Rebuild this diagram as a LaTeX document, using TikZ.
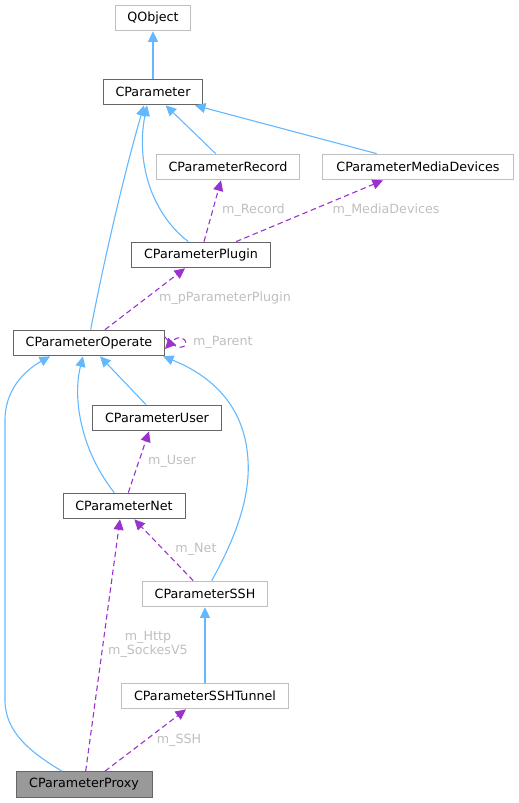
\documentclass[tikz,border=0pt]{standalone}
\usepackage{fontspec}
\setmainfont{DejaVu Sans}
\usetikzlibrary{arrows.meta}
\definecolor{inh}{HTML}{63B8FF}
\definecolor{use}{HTML}{9A32CD}
\definecolor{lbl}{HTML}{BFBFBF}
\definecolor{bdark}{HTML}{666666}
\definecolor{blight}{HTML}{BFBFBF}
\begin{document}
\begin{tikzpicture}[x=1pt,y=-1pt,
  cls/.style={rectangle,draw=bdark,line width=1pt,minimum height=25.7pt,inner sep=0pt,font=\fontsize{12.7}{15}\selectfont,fill=white},
  ext/.style={cls,draw=blight},
  cur/.style={cls,fill=black!40},
  inhe/.style={draw=inh,line width=1.1pt,-{Triangle[length=10.5pt,width=10pt,fill=inh]}},
  usee/.style={draw=use,line width=1.1pt,dash pattern=on 5.5pt off 3.5pt,-{Triangle[length=10.5pt,width=10pt,fill=use]}},
  lab/.style={text=lbl,font=\fontsize{12.7}{14}\selectfont,inner sep=0pt,align=center}
]
\useasboundingbox (0,0) rectangle (519,803);
\node[ext,minimum width=75pt] (qo) at (153,18) {QObject};
\node[cls,minimum width=99pt] (cp) at (153,92) {CParameter};
\node[ext,minimum width=143pt] (rec) at (228,167) {CParameterRecord};
\node[ext,minimum width=191pt] (med) at (418,167) {CParameterMediaDevices};
\node[cls,minimum width=139pt] (plg) at (201,255) {CParameterPlugin};
\node[cls,minimum width=151pt] (op) at (89,343) {CParameterOperate};
\node[cls,minimum width=129pt] (usr) at (157,418) {CParameterUser};
\node[cls,minimum width=122pt] (net) at (124,506) {CParameterNet};
\node[ext,minimum width=125pt] (ssh) at (205,594) {CParameterSSH};
\node[ext,minimum width=167pt] (tun) at (205,696) {CParameterSSHTunnel};
\node[cur,minimum width=136pt] (prx) at (84,784.5) {CParameterProxy};

% inheritance
\draw[inhe] (cp.north) -- (qo.south);
\draw[inhe] ([xshift=-12.3pt]rec.north) -- ([xshift=12.7pt]cp.south);
\draw[inhe] ([xshift=-41.3pt]med.north) -- ([xshift=42pt]cp.south);
\draw[inhe] ([xshift=1.7pt]op.north) .. controls (104,260) and (125,170) .. ([xshift=-9pt]cp.south);
\draw[inhe] ([xshift=-12.7pt]plg.north) .. controls (150,212) and (136,160) .. ([xshift=-6pt]cp.south);
\draw[inhe] ([xshift=-22pt]prx.north) .. controls (30,752) and (5,732) .. (5,700) -- (5,420) .. controls (5,392) and (22,372) .. ([xshift=-39pt]op.south);
\draw[inhe] ([xshift=-9.7pt]net.north) .. controls (82,452) and (72,400) .. ([xshift=-6pt]op.south);
\draw[inhe] ([xshift=-11pt]usr.north) -- ([xshift=11pt]op.south);
\draw[inhe] ([xshift=6.7pt]ssh.north) .. controls (240,530) and (250,492) .. (248,460) .. controls (245,405) and (210,375) .. ([xshift=74pt]op.south);
\draw[inhe] (tun.north) -- (ssh.south);

% usage
\draw[usee] ([xshift=3pt]plg.north) -- ([xshift=-7pt]rec.south);
\draw[usee] ([xshift=35pt]plg.north) -- ([xshift=-35pt]med.south);
\draw[usee] ([xshift=16pt]op.north) -- ([xshift=-16pt]plg.south);
\draw[usee] ([yshift=6pt]op.east) .. controls (176,351) and (186,348) .. (186,343) .. controls (186,338) and (178,335) .. ([yshift=-6pt]op.east);
\draw[usee] ([xshift=4.3pt]net.north) -- ([xshift=-8pt]usr.south);
\draw[usee] ([xshift=-11.7pt]ssh.north) -- ([xshift=10.3pt]net.south);
\draw[usee] ([xshift=1.7pt]prx.north) -- ([xshift=-4pt]net.south);
\draw[usee] ([xshift=21pt]prx.north) -- ([xshift=-19pt]tun.south);

% labels
\node[lab,anchor=west] (lrec) at (222,210) {m\_Record};
\node[lab] (lmed) at (386,210) {m\_MediaDevices};
\node[lab] (lplg) at (225,298) {m\_pParameterPlugin};
\node[lab,anchor=west] (lpar) at (193,342) {m\_Parent};
\node[lab] (lusr) at (172,461) {m\_User};
\node[lab] (lnet) at (196,549) {m\_Net};
\node[lab] (lhttp) at (148,644) {m\_Http\\m\_SockesV5};
\node[lab] (lssh) at (179,740) {m\_SSH};
\end{tikzpicture}
\end{document}
